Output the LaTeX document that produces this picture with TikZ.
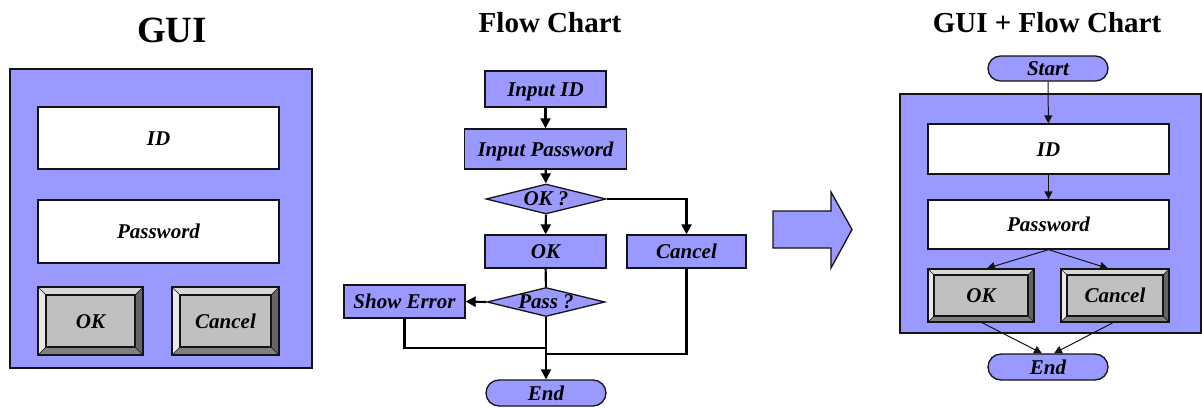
\documentclass[tikz,border=0pt]{standalone}
\usepackage{fontspec}
\setmainfont{Liberation Serif}
\usetikzlibrary{arrows.meta,shapes.geometric,shapes.misc}

\definecolor{panelblue}{RGB}{153,153,255}
\definecolor{btnface}{RGB}{192,192,192}
\definecolor{btnlight}{RGB}{215,215,215}
\definecolor{btnlighter}{RGB}{232,232,232}
\definecolor{btndark}{RGB}{128,128,128}
\definecolor{btndarker}{RGB}{100,100,100}
\definecolor{edge}{RGB}{20,20,20}

% label text centred on the capitals, whatever descenders it has
\newcommand\flatlabel[1]{\makebox[0pt]{\raisebox{-0.33em}[0pt][0pt]{#1}}}

\tikzset{
  lbl/.style={font=\fontsize{21}{21}\selectfont\bfseries\itshape,
    text height=16pt, text depth=2pt, inner sep=0pt},
  title/.style={font=\fontsize{#1}{#1}\selectfont\bfseries, anchor=base, inner sep=0pt},
  panel/.style={draw=edge, line width=1.3pt, fill=panelblue, inner sep=0pt},
  field/.style={lbl, draw=edge, line width=1.3pt, fill=white},
  fcbox/.style={lbl, draw=edge, line width=1.3pt, fill=panelblue},
  fcdiam/.style={lbl, diamond, draw=edge, line width=1.3pt, fill=panelblue,
    text height=0pt, text depth=0pt},
  fcpill/.style={lbl, rounded rectangle, draw=edge, line width=1.3pt, fill=panelblue},
  % raised push button; #1 is the bevel width
  btn/.style={lbl, draw=edge, line width=1.3pt, fill=btnface,
    path picture={
      \coordinate (bnw) at (path picture bounding box.north west);
      \coordinate (bne) at (path picture bounding box.north east);
      \coordinate (bsw) at (path picture bounding box.south west);
      \coordinate (bse) at (path picture bounding box.south east);
      \coordinate (inw) at ([xshift=#1,yshift=-#1]bnw);
      \coordinate (ine) at ([xshift=-#1,yshift=-#1]bne);
      \coordinate (isw) at ([xshift=#1,yshift=#1]bsw);
      \coordinate (ise) at ([xshift=-#1,yshift=#1]bse);
      \fill[btnlight] (bnw) -- (bne) -- (ine) -- (inw) -- cycle;
      \fill[btnlighter] (bnw) -- (inw) -- (isw) -- (bsw) -- cycle;
      \fill[btndark] (bsw) -- (isw) -- (ise) -- (bse) -- cycle;
      \fill[btndarker] (bne) -- (bse) -- (ise) -- (ine) -- cycle;
      \draw[edge, line width=0.5pt] (bnw) -- (inw) (bne) -- (ine)
        (bsw) -- (isw) (bse) -- (ise);
      \draw[edge, line width=1.3pt] (inw) rectangle (ise);
    }},
  farrow/.style={draw=black, line width=2.1pt,
    -{Triangle[length=10pt,width=10pt]}},
  fline/.style={draw=black, line width=2.1pt},
  sarrow/.style={draw=edge, line width=1pt,
    -{Triangle[length=8pt,width=8pt]}},
}

\begin{document}
\begin{tikzpicture}[x=1pt,y=-1pt]
\useasboundingbox (0,0) rectangle (1202,407);

% ---------- GUI ----------
\node[title=37] (tgui) at (172,42) {GUI};
\node[panel, minimum width=302pt, minimum height=299pt] (lpanel) at (161,218.5) {};
\node[field, minimum width=241pt, minimum height=62pt] (lid) at (158.5,138) {ID};
\node[field, minimum width=241pt, minimum height=63pt] (lpw) at (158.5,231.5) {Password};
\node[btn=8pt, minimum width=105pt, minimum height=68pt] (lok) at (90.5,321) {OK};
\node[btn=8pt, minimum width=107pt, minimum height=68pt] (lcancel) at (225.5,321) {Cancel};

% ---------- Flow chart ----------
\node[title=29] (tflow) at (550,32) {Flow Chart};
\node[fcbox, minimum width=121pt, minimum height=36pt] (inid) at (545.5,89) {Input ID};
\node[fcbox, minimum width=162pt, minimum height=40pt] (inpw) at (545.5,149) {Input Password};
\node[fcdiam, minimum width=120pt, minimum height=30pt] (okq) at (546,199) {\flatlabel{OK ?}};
\node[fcbox, minimum width=121pt, minimum height=33pt] (okb) at (545.5,251.5) {OK};
\node[fcbox, minimum width=119pt, minimum height=33pt] (cancelb) at (686.5,251.5) {Cancel};
\node[fcdiam, minimum width=118pt, minimum height=29pt] (passq) at (546,302) {\flatlabel{Pass ?}};
\node[fcbox, minimum width=121pt, minimum height=33pt] (showerr) at (404.5,301.5) {Show Error};
\node[fcpill, minimum width=120pt, minimum height=26pt] (fend) at (546,393) {End};
\coordinate (jerr) at (546,348);
\coordinate (jcan) at (546,354);

\draw[farrow] (inid) -- (inpw);
\draw[farrow] (inpw) -- (okq);
\draw[farrow] (okq) -- (okb);
\draw[farrow] (okq.east) -| (cancelb.north);
\draw[fline] (okb) -- (passq);
\draw[farrow] (passq.west) -- (showerr.east);
\draw[farrow] (passq.south) -- (fend.north);
\draw[fline] (showerr.south) |- (jerr);
\draw[fline] (cancelb.south) |- (jcan);

% ---------- big arrow ----------
\filldraw[fill=panelblue, draw=edge, line width=1.3pt, line join=miter]
  (773,211) -- (831,211) -- (831,192) -- (852,229.5) -- (831,268)
  -- (831,248) -- (773,248) -- cycle;

% ---------- GUI + flow chart ----------
\node[title=29] (tboth) at (1047,32) {GUI + Flow Chart};
\node[panel, minimum width=301pt, minimum height=239pt] (rpanel) at (1050.5,213.5) {};
\node[fcpill, minimum width=120pt, minimum height=25pt] (rstart) at (1048,68.5) {Start};
\node[field, minimum width=241pt, minimum height=50pt] (rid) at (1048.5,149) {ID};
\node[field, minimum width=241pt, minimum height=49pt] (rpw) at (1048.5,224.5) {Password};
\node[btn=6pt, minimum width=106pt, minimum height=53pt] (rok) at (981,295.5) {OK};
\node[btn=6pt, minimum width=108pt, minimum height=53pt] (rcancel) at (1115,295.5) {Cancel};
\node[fcpill, minimum width=120pt, minimum height=26pt] (rend) at (1048,367) {End};

\draw[sarrow] (rstart) -- (rid);
\draw[sarrow] (rid) -- (rpw);
\draw[sarrow] (rpw.south) -- ([xshift=6pt]rok.north);
\draw[sarrow] (rpw.south) -- ([xshift=-7pt]rcancel.north);
\draw[sarrow] ([xshift=1pt]rok.south) -- ([xshift=-6pt]rend.north);
\draw[sarrow] ([xshift=-2pt]rcancel.south) -- ([xshift=6pt]rend.north);
\end{tikzpicture}
\end{document}
